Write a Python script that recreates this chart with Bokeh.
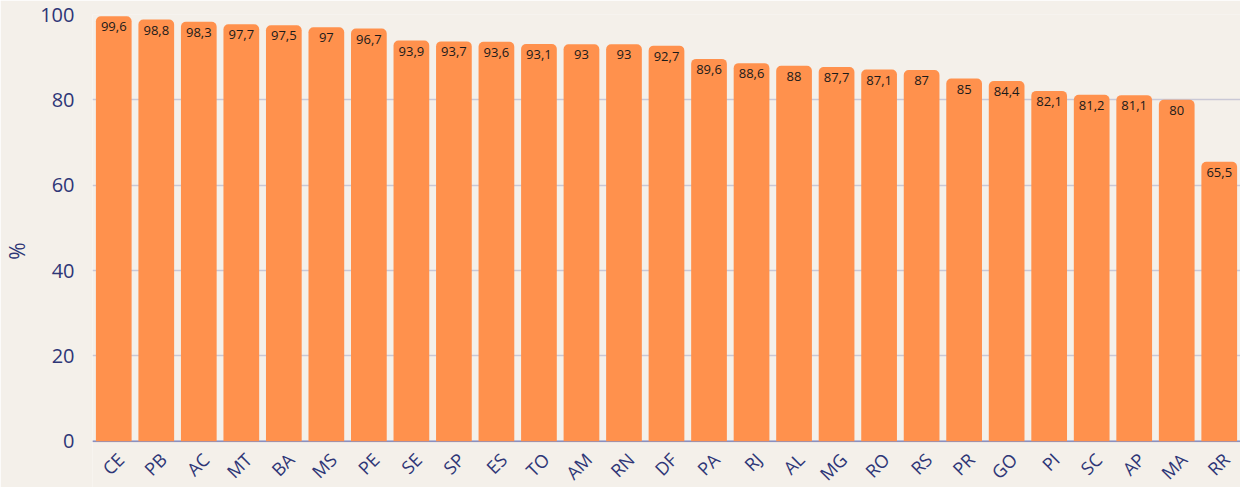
import math
from bokeh.plotting import figure
from bokeh.models import ColumnDataSource, FactorRange, Range1d, FixedTicker, LabelSet, Span
from bokeh.core.properties import value
from bokeh.embed import file_html
from bokeh.resources import INLINE

states = ["CE", "PB", "AC", "MT", "BA", "MS", "PE", "SE", "SP", "ES", "TO", "AM", "RN", "DF",
          "PA", "RJ", "AL", "MG", "RO", "RS", "PR", "GO", "PI", "SC", "AP", "MA", "RR"]
values = [99.6, 98.8, 98.3, 97.7, 97.5, 97, 96.7, 93.9, 93.7, 93.6, 93.1, 93, 93, 92.7,
          89.6, 88.6, 88, 87.7, 87.1, 87, 85, 84.4, 82.1, 81.2, 81.1, 80, 65.5]
y_ticks = [0, 20, 40, 60, 80, 100]


def fmt(v):
    if float(v).is_integer():
        return str(int(v))
    return ("%g" % v).replace(".", ",")


labels = [fmt(v) for v in values]
src = ColumnDataSource(dict(x=states, top=values, label=labels, base=[0] * len(states)))

FONT = "Open Sans"
NAVY = "#2e3677"
BG = "#f4f0ea"

p = figure(x_range=FactorRange(factors=states, range_padding=0),
           y_range=Range1d(-10.85, 100),
           width=1240, height=487, output_backend="svg", toolbar_location=None,
           background_fill_color=BG, border_fill_color=BG,
           min_border_left=84, min_border_right=0, min_border_top=14, min_border_bottom=0)
p.outline_line_color = None

p.vbar(x="x", top="top", bottom=0, width=0.84, source=src, color="#ff914d", line_color=None,
       border_radius=(5, 5, 0, 0))
p.text(x="x", y="top", text="label", source=src, text_align="center", text_baseline="top",
       y_offset=6, text_font=value(FONT), text_font_size="13px", text_color="#1a1a1a")

p.xgrid.grid_line_color = None
p.ygrid.grid_line_color = "#c9c8d6"
p.ygrid.grid_line_width = 1.5
p.ygrid.ticker = FixedTicker(ticks=y_ticks)

p.add_layout(Span(location=0, dimension="width", line_color="#8a90c0", line_width=1.5,
                  level="underlay"))

p.yaxis.ticker = FixedTicker(ticks=y_ticks)
p.yaxis.axis_line_color = None
p.yaxis.major_tick_line_color = None
p.yaxis.minor_tick_line_color = None
p.yaxis.major_label_text_font = FONT
p.yaxis.major_label_text_font_size = "20px"
p.yaxis.major_label_text_color = NAVY
p.yaxis.major_label_standoff = 12
p.yaxis.axis_label = "%"
p.yaxis.axis_label_text_font = FONT
p.yaxis.axis_label_text_font_size = "21px"
p.yaxis.axis_label_text_font_style = "normal"
p.yaxis.axis_label_text_color = NAVY
p.yaxis.axis_label_standoff = 6

p.xaxis.visible = False

xlabels = LabelSet(x="x", y="base", text="x", source=src, angle=math.pi / 4,
                   text_align="right", text_baseline="middle", x_offset=7, y_offset=-15,
                   text_font=value(FONT), text_font_size="18px", text_color=NAVY)
p.add_layout(xlabels)

open("out.html", "w").write(file_html(p, INLINE))
